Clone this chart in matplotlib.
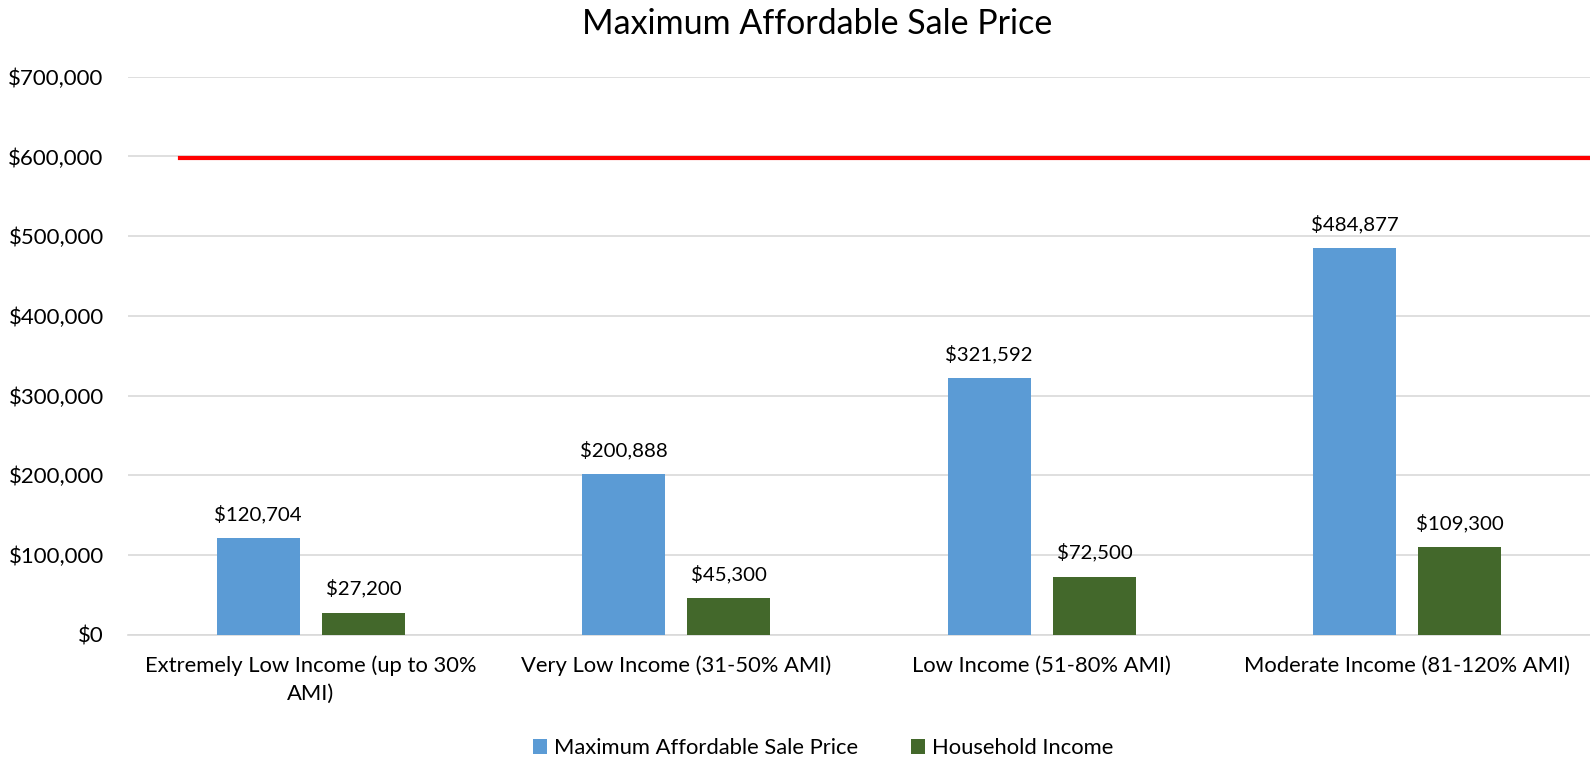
import matplotlib
matplotlib.use("Agg")
import matplotlib.pyplot as plt
import numpy as np
from matplotlib.ticker import FuncFormatter

plt.rcParams['font.family'] = ['Lato', 'DejaVu Sans']

categories = ["Extremely Low Income (up to 30%\nAMI)", "Very Low Income (31-50% AMI)",
              "Low Income (51-80% AMI)", "Moderate Income (81-120% AMI)"]
sale_price = [120704, 200888, 321592, 484877]
household_income = [27200, 45300, 72500, 109300]
threshold = 598000
series_names = ["Maximum Affordable Sale Price", "Household Income"]

fig = plt.figure(figsize=(15.9, 7.57), dpi=100)
ax = fig.add_axes([128/1590, 1-634.6/757, 1-128/1590, (634.6-76.7)/757])

x = np.arange(len(categories))
w = 0.227
off = 0.144
b1 = ax.bar(x - off, sale_price, w, color="#5B9BD5", label=series_names[0], zorder=3)
b2 = ax.bar(x + off, household_income, w, color="#43682B", label=series_names[1], zorder=3)

for bars, vals in ((b1, sale_price), (b2, household_income)):
    for r, v in zip(bars, vals):
        ax.annotate(f"${v:,.0f}", (r.get_x() + r.get_width()/2, v), xytext=(0, 11),
                    textcoords="offset points", ha="center", va="bottom", fontsize=14.7, color="black")

ax.axhline(threshold, xmin=(180-128)/1462, xmax=1, color="#FF0000", lw=3, zorder=4)

ax.set_xlim(-0.5, 3.5)
ax.set_ylim(0, 700000)
ax.set_yticks(np.arange(0, 700001, 100000))
ax.yaxis.set_major_formatter(FuncFormatter(lambda v, p: f"${v:,.0f}"))
ax.set_xticks(x)
ax.set_xticklabels(categories, fontsize=15.8, linespacing=1.5)
ax.tick_params(axis='y', labelsize=16, length=0, pad=17.5)
ax.tick_params(axis='x', length=0, pad=15)
ax.grid(axis='y', color="#D9D9D9", lw=1.2, zorder=0)
for s in ("top", "right", "left"):
    ax.spines[s].set_visible(False)
ax.spines["bottom"].set_color("#D9D9D9")
ax.spines["bottom"].set_linewidth(1.2)

fig.text(817/1590, 1-23.5/757, "Maximum Affordable Sale Price", ha="center", va="center", fontsize=24.5)

fig.legend(handles=[b1, b2], loc="center", bbox_to_anchor=(823/1590, 1-748/757), ncol=2,
           frameon=False, fontsize=15.8, handlelength=0.65, handleheight=0.65, handletextpad=0.3,
           columnspacing=2.4)

fig.savefig("out.png", dpi=100)
